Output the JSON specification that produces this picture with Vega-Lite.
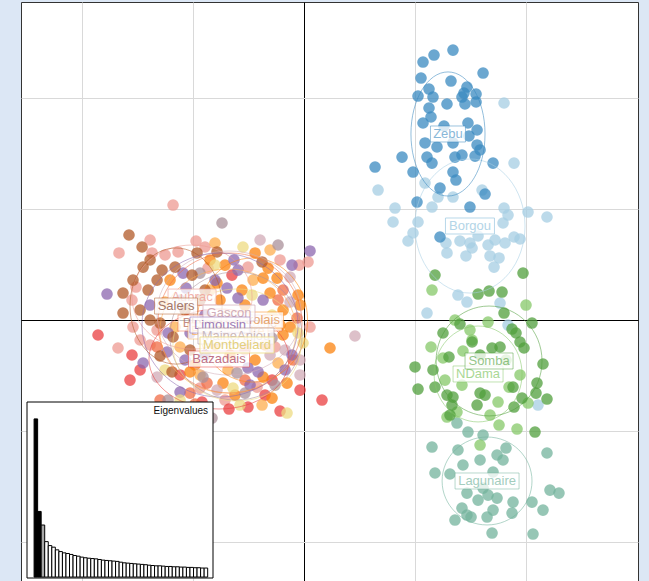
{
"$schema": "https://vega.github.io/schema/vega-lite/v6.json",
"width": 617, "height": 579,
"autosize": {"type": "none"},
"padding": {"left": 21, "top": 2, "right": 11, "bottom": 0},
"background": "#dce7f5",
"config": {"view": {"stroke": "#333333", "strokeWidth": 1, "fill": "white"}},
"datasets": {
"pts": [
{"g":"Borgou","x":1.802,"y":1.955},{"g":"Borgou","x":1.892,"y":1.414},{"g":"Borgou","x":0.667,"y":1.171},{"g":"Borgou","x":1.090,"y":1.234},{"g":"Borgou","x":1.604,"y":1.171},{"g":"Borgou","x":1.207,"y":1.108},{"g":"Borgou","x":1.342,"y":1.108},{"g":"Borgou","x":0.820,"y":1.009},{"g":"Borgou","x":1.153,"y":1.018},{"g":"Borgou","x":1.802,"y":1.009},{"g":"Borgou","x":1.838,"y":0.946},{"g":"Borgou","x":2.018,"y":0.973},{"g":"Borgou","x":2.189,"y":0.928},{"g":"Borgou","x":0.802,"y":0.883},{"g":"Borgou","x":1.027,"y":0.883},{"g":"Borgou","x":1.793,"y":0.874},{"g":"Borgou","x":0.982,"y":0.784},{"g":"Borgou","x":0.937,"y":0.712},{"g":"Borgou","x":1.405,"y":0.712},{"g":"Borgou","x":1.495,"y":0.694},{"g":"Borgou","x":1.568,"y":0.757},{"g":"Borgou","x":1.658,"y":0.676},{"g":"Borgou","x":1.721,"y":0.721},{"g":"Borgou","x":1.811,"y":0.694},{"g":"Borgou","x":1.892,"y":0.748},{"g":"Borgou","x":1.946,"y":0.730},{"g":"Borgou","x":1.279,"y":0.694},{"g":"Borgou","x":1.514,"y":0.649},{"g":"Borgou","x":1.288,"y":0.604},{"g":"Borgou","x":1.459,"y":0.577},{"g":"Borgou","x":1.676,"y":0.577},{"g":"Borgou","x":1.757,"y":0.559},{"g":"Borgou","x":1.712,"y":0.477},{"g":"Borgou","x":1.387,"y":0.225},{"g":"Borgou","x":1.468,"y":0.162},{"g":"Borgou","x":1.108,"y":0.063},{"g":"Borgou","x":1.766,"y":0.153},{"g":"Borgou","x":1.838,"y":-0.045},{"g":"Borgou","x":2.108,"y":-0.766},
{"g":"Zebu","x":1.342,"y":2.432},{"g":"Zebu","x":1.171,"y":2.387},{"g":"Zebu","x":1.072,"y":2.324},{"g":"Zebu","x":1.613,"y":2.225},{"g":"Zebu","x":1.054,"y":2.180},{"g":"Zebu","x":1.324,"y":2.153},{"g":"Zebu","x":1.126,"y":2.081},{"g":"Zebu","x":1.468,"y":2.099},{"g":"Zebu","x":1.550,"y":2.036},{"g":"Zebu","x":1.027,"y":2.018},{"g":"Zebu","x":1.162,"y":2.009},{"g":"Zebu","x":1.441,"y":2.045},{"g":"Zebu","x":1.423,"y":2.009},{"g":"Zebu","x":1.450,"y":1.946},{"g":"Zebu","x":1.550,"y":1.964},{"g":"Zebu","x":1.288,"y":1.946},{"g":"Zebu","x":1.126,"y":1.910},{"g":"Zebu","x":1.144,"y":1.829},{"g":"Zebu","x":1.072,"y":1.775},{"g":"Zebu","x":1.261,"y":1.748},{"g":"Zebu","x":1.477,"y":1.775},{"g":"Zebu","x":1.559,"y":1.712},{"g":"Zebu","x":1.090,"y":1.595},{"g":"Zebu","x":1.198,"y":1.559},{"g":"Zebu","x":1.486,"y":1.658},{"g":"Zebu","x":1.559,"y":1.577},{"g":"Zebu","x":1.586,"y":1.532},{"g":"Zebu","x":0.883,"y":1.468},{"g":"Zebu","x":1.108,"y":1.468},{"g":"Zebu","x":1.360,"y":1.468},{"g":"Zebu","x":1.423,"y":1.486},{"g":"Zebu","x":1.541,"y":1.477},{"g":"Zebu","x":0.640,"y":1.378},{"g":"Zebu","x":1.153,"y":1.414},{"g":"Zebu","x":1.703,"y":1.414},{"g":"Zebu","x":0.982,"y":1.333},{"g":"Zebu","x":1.342,"y":1.333},{"g":"Zebu","x":1.369,"y":1.261},{"g":"Zebu","x":1.225,"y":1.189},{"g":"Zebu","x":1.631,"y":1.135},{"g":"Zebu","x":1.018,"y":1.063},{"g":"Zebu","x":1.495,"y":1.018},{"g":"Zebu","x":1.225,"y":0.748},{"g":"Zebu","x":1.342,"y":1.595},
{"g":"Lagunaire","x":1.378,"y":-0.928},{"g":"Lagunaire","x":1.477,"y":-1.009},{"g":"Lagunaire","x":1.613,"y":-1.036},{"g":"Lagunaire","x":1.153,"y":-1.144},{"g":"Lagunaire","x":2.189,"y":-1.198},{"g":"Lagunaire","x":1.387,"y":-1.171},{"g":"Lagunaire","x":1.586,"y":-1.261},{"g":"Lagunaire","x":1.739,"y":-1.216},{"g":"Lagunaire","x":1.820,"y":-1.153},{"g":"Lagunaire","x":1.793,"y":-1.261},{"g":"Lagunaire","x":1.432,"y":-1.306},{"g":"Lagunaire","x":1.180,"y":-1.378},{"g":"Lagunaire","x":1.315,"y":-1.387},{"g":"Lagunaire","x":1.703,"y":-1.369},{"g":"Lagunaire","x":1.613,"y":-1.514},{"g":"Lagunaire","x":1.468,"y":-1.559},{"g":"Lagunaire","x":1.568,"y":-1.622},{"g":"Lagunaire","x":1.658,"y":-1.577},{"g":"Lagunaire","x":1.739,"y":-1.604},{"g":"Lagunaire","x":2.054,"y":-1.640},{"g":"Lagunaire","x":1.883,"y":-1.640},{"g":"Lagunaire","x":2.216,"y":-1.532},{"g":"Lagunaire","x":2.297,"y":-1.559},{"g":"Lagunaire","x":2.153,"y":-1.712},{"g":"Lagunaire","x":1.423,"y":-1.694},{"g":"Lagunaire","x":1.703,"y":-1.712},{"g":"Lagunaire","x":1.468,"y":-1.757},{"g":"Lagunaire","x":1.649,"y":-1.775},{"g":"Lagunaire","x":1.874,"y":-1.739},{"g":"Lagunaire","x":1.360,"y":-1.802},{"g":"Lagunaire","x":1.505,"y":-1.775},{"g":"Lagunaire","x":1.694,"y":-1.919},{"g":"Lagunaire","x":2.063,"y":-1.928},
{"g":"NDama","x":1.153,"y":0.270},{"g":"NDama","x":2.000,"y":0.135},{"g":"NDama","x":1.658,"y":-0.018},{"g":"NDama","x":1.144,"y":-0.243},{"g":"NDama","x":1.252,"y":-0.342},{"g":"NDama","x":1.432,"y":-0.279},{"g":"NDama","x":1.270,"y":-0.541},{"g":"NDama","x":1.847,"y":-0.604},{"g":"NDama","x":1.748,"y":-0.739},{"g":"NDama","x":2.018,"y":-0.748},{"g":"NDama","x":1.676,"y":-0.856},{"g":"NDama","x":1.288,"y":-0.874},{"g":"NDama","x":1.757,"y":-0.946},{"g":"NDama","x":1.919,"y":-0.982},{"g":"NDama","x":1.586,"y":-1.126},{"g":"NDama","x":1.514,"y":-0.180},{"g":"NDama","x":1.378,"y":-0.829},{"g":"NDama","x":1.495,"y":-0.090},{"g":"NDama","x":1.820,"y":-0.360},{"g":"NDama","x":1.360,"y":0.000},{"g":"NDama","x":1.946,"y":-0.495},{"g":"NDama","x":1.423,"y":-0.586},
{"g":"Somba","x":1.180,"y":0.405},{"g":"Somba","x":1.973,"y":0.423},{"g":"Somba","x":1.568,"y":0.234},{"g":"Somba","x":1.667,"y":0.261},{"g":"Somba","x":1.784,"y":0.252},{"g":"Somba","x":1.802,"y":0.063},{"g":"Somba","x":1.405,"y":-0.036},{"g":"Somba","x":2.054,"y":-0.027},{"g":"Somba","x":1.252,"y":-0.117},{"g":"Somba","x":1.874,"y":-0.081},{"g":"Somba","x":1.910,"y":-0.117},{"g":"Somba","x":1.514,"y":-0.198},{"g":"Somba","x":1.694,"y":-0.252},{"g":"Somba","x":1.766,"y":-0.243},{"g":"Somba","x":1.946,"y":-0.198},{"g":"Somba","x":1.982,"y":-0.252},{"g":"Somba","x":1.306,"y":-0.333},{"g":"Somba","x":1.000,"y":-0.423},{"g":"Somba","x":1.162,"y":-0.450},{"g":"Somba","x":2.153,"y":-0.396},{"g":"Somba","x":1.586,"y":-0.315},{"g":"Somba","x":1.027,"y":-0.622},{"g":"Somba","x":1.180,"y":-0.604},{"g":"Somba","x":1.883,"y":-0.604},{"g":"Somba","x":2.099,"y":-0.568},{"g":"Somba","x":1.288,"y":-0.676},{"g":"Somba","x":1.342,"y":-0.694},{"g":"Somba","x":1.586,"y":-0.658},{"g":"Somba","x":1.631,"y":-0.676},{"g":"Somba","x":1.964,"y":-0.703},{"g":"Somba","x":2.090,"y":-0.658},{"g":"Somba","x":2.189,"y":-0.712},{"g":"Somba","x":1.333,"y":-0.766},{"g":"Somba","x":1.559,"y":-0.766},{"g":"Somba","x":1.892,"y":-0.784},{"g":"Somba","x":1.315,"y":-0.856},{"g":"Somba","x":2.081,"y":-1.009},
{"g":"Aubrac","x":-1.667,"y":0.604},{"g":"Aubrac","x":-1.387,"y":0.721},{"g":"Aubrac","x":-1.369,"y":0.604},{"g":"Aubrac","x":-1.135,"y":0.613},{"g":"Aubrac","x":-0.892,"y":0.658},{"g":"Aubrac","x":0.036,"y":0.523},{"g":"Aubrac","x":-0.865,"y":0.468},{"g":"Aubrac","x":-0.505,"y":0.477},{"g":"Aubrac","x":-1.514,"y":0.297},{"g":"Aubrac","x":-1.550,"y":0.180},{"g":"Aubrac","x":-1.541,"y":-0.063},{"g":"Aubrac","x":-1.324,"y":-0.090},{"g":"Aubrac","x":0.054,"y":-0.063},{"g":"Aubrac","x":-0.261,"y":-0.243},{"g":"Aubrac","x":-0.937,"y":-0.613},{"g":"Aubrac","x":-0.423,"y":-0.604},{"g":"Aubrac","x":-1.180,"y":1.036},{"g":"Aubrac","x":-0.532,"y":-0.270},{"g":"Aubrac","x":-0.973,"y":0.712},{"g":"Aubrac","x":-0.045,"y":0.495},{"g":"Aubrac","x":-1.676,"y":-0.252},{"g":"Aubrac","x":-1.387,"y":-0.225},{"g":"Aubrac","x":-1.252,"y":0.586},{"g":"Aubrac","x":-0.216,"y":0.541},{"g":"Aubrac","x":-1.477,"y":-0.180},{"g":"Aubrac","x":-0.712,"y":-0.721},
{"g":"Bazadais","x":-1.856,"y":-0.135},{"g":"Bazadais","x":-1.550,"y":-0.315},{"g":"Bazadais","x":-1.477,"y":-0.450},{"g":"Bazadais","x":-1.117,"y":-0.495},{"g":"Bazadais","x":-0.288,"y":-0.541},{"g":"Bazadais","x":0.162,"y":-0.721},{"g":"Bazadais","x":-0.216,"y":-0.820},{"g":"Bazadais","x":-0.505,"y":-0.784},{"g":"Bazadais","x":-0.676,"y":-0.802},{"g":"Bazadais","x":-0.919,"y":-0.739},{"g":"Bazadais","x":-1.568,"y":-0.541},{"g":"Bazadais","x":-0.649,"y":0.405},{"g":"Bazadais","x":-0.351,"y":-0.676},{"g":"Bazadais","x":-1.027,"y":-0.811},{"g":"Bazadais","x":-0.036,"y":-0.631},
{"g":"BlondeAquitaine","x":-0.189,"y":0.270},{"g":"BlondeAquitaine","x":-0.234,"y":0.180},{"g":"BlondeAquitaine","x":-0.063,"y":0.018},{"g":"BlondeAquitaine","x":-1.324,"y":-0.243},{"g":"BlondeAquitaine","x":-0.874,"y":-0.568},{"g":"BlondeAquitaine","x":-0.099,"y":-0.360},{"g":"BlondeAquitaine","x":-1.027,"y":-0.658},{"g":"BlondeAquitaine","x":-0.982,"y":-0.757},{"g":"BlondeAquitaine","x":-0.712,"y":-0.090},{"g":"BlondeAquitaine","x":-0.532,"y":-0.541},{"g":"BlondeAquitaine","x":-1.297,"y":-0.721},
{"g":"BretPieNoire","x":-0.802,"y":0.694},{"g":"BretPieNoire","x":-0.459,"y":0.360},{"g":"BretPieNoire","x":-1.252,"y":0.162},{"g":"BretPieNoire","x":-1.162,"y":-0.063},{"g":"BretPieNoire","x":-1.117,"y":-0.243},{"g":"BretPieNoire","x":-0.234,"y":-0.387},{"g":"BretPieNoire","x":-0.802,"y":-0.225},{"g":"BretPieNoire","x":-0.847,"y":0.270},{"g":"BretPieNoire","x":-0.505,"y":-0.180},{"g":"BretPieNoire","x":-0.685,"y":-0.450},{"g":"BretPieNoire","x":-0.378,"y":-0.766},{"g":"BretPieNoire","x":-0.306,"y":0.631},{"g":"BretPieNoire","x":-0.937,"y":-0.495},
{"g":"Charolais","x":-0.441,"y":0.604},{"g":"Charolais","x":-0.712,"y":0.495},{"g":"Charolais","x":-0.369,"y":0.378},{"g":"Charolais","x":-0.243,"y":0.378},{"g":"Charolais","x":-1.207,"y":0.360},{"g":"Charolais","x":-0.784,"y":0.333},{"g":"Charolais","x":-0.559,"y":0.270},{"g":"Charolais","x":-0.306,"y":0.243},{"g":"Charolais","x":-0.054,"y":0.225},{"g":"Charolais","x":-0.757,"y":0.180},{"g":"Charolais","x":-0.189,"y":0.090},{"g":"Charolais","x":-0.126,"y":-0.063},{"g":"Charolais","x":-0.189,"y":-0.135},{"g":"Charolais","x":0.234,"y":-0.252},{"g":"Charolais","x":-1.027,"y":-0.468},{"g":"Charolais","x":-0.730,"y":-0.568},{"g":"Charolais","x":-0.369,"y":-0.514},{"g":"Charolais","x":-0.153,"y":-0.568},{"g":"Charolais","x":-0.577,"y":0.000},{"g":"Charolais","x":-0.351,"y":0.000},{"g":"Charolais","x":-0.667,"y":-0.315},{"g":"Charolais","x":-0.982,"y":-0.405},{"g":"Charolais","x":-0.441,"y":-0.360},{"g":"Charolais","x":-0.820,"y":-0.045},{"g":"Charolais","x":-0.351,"y":-0.225},{"g":"Charolais","x":-0.288,"y":-0.703},{"g":"Charolais","x":-0.847,"y":0.541},{"g":"Charolais","x":-0.324,"y":0.468},{"g":"Charolais","x":-0.532,"y":0.135},{"g":"Charolais","x":-0.216,"y":-0.045},{"g":"Charolais","x":-0.622,"y":-0.676},{"g":"Charolais","x":-0.036,"y":0.135},
{"g":"Gascon","x":-0.126,"y":0.387},{"g":"Gascon","x":-0.126,"y":0.162},{"g":"Gascon","x":-1.324,"y":-0.514},{"g":"Gascon","x":-0.784,"y":-0.631},{"g":"Gascon","x":0.459,"y":-0.144},{"g":"Gascon","x":-0.306,"y":-0.315},{"g":"Gascon","x":-0.171,"y":-0.270},{"g":"Gascon","x":-0.036,"y":-0.495},{"g":"Gascon","x":-0.396,"y":0.721},{"g":"Gascon","x":-0.036,"y":-0.360},
{"g":"Limousin","x":0.054,"y":0.622},{"g":"Limousin","x":-1.090,"y":0.423},{"g":"Limousin","x":-0.631,"y":0.541},{"g":"Limousin","x":-0.595,"y":0.450},{"g":"Limousin","x":-1.063,"y":0.288},{"g":"Limousin","x":-0.694,"y":0.288},{"g":"Limousin","x":-1.775,"y":0.234},{"g":"Limousin","x":-0.595,"y":0.198},{"g":"Limousin","x":-0.369,"y":0.180},{"g":"Limousin","x":-1.225,"y":-0.117},{"g":"Limousin","x":-1.027,"y":-0.117},{"g":"Limousin","x":-1.234,"y":-0.288},{"g":"Limousin","x":-0.108,"y":-0.315},{"g":"Limousin","x":-1.450,"y":-0.387},{"g":"Limousin","x":-0.505,"y":-0.432},{"g":"Limousin","x":-0.414,"y":-0.468},{"g":"Limousin","x":-1.117,"y":-0.649},{"g":"Limousin","x":-0.892,"y":0.045},{"g":"Limousin","x":-0.441,"y":-0.090},{"g":"Limousin","x":-1.072,"y":-0.360},{"g":"Limousin","x":-0.892,"y":-0.315},{"g":"Limousin","x":-0.108,"y":0.495},{"g":"Limousin","x":-0.802,"y":0.360},{"g":"Limousin","x":-0.486,"y":-0.586},{"g":"Limousin","x":-0.171,"y":-0.450},{"g":"Limousin","x":-1.387,"y":0.135},
{"g":"MaineAnjou","x":-0.739,"y":0.874},{"g":"MaineAnjou","x":-0.234,"y":0.676},{"g":"MaineAnjou","x":-0.937,"y":0.423},{"g":"MaineAnjou","x":-0.288,"y":-0.162},{"g":"MaineAnjou","x":-0.910,"y":-0.514},{"g":"MaineAnjou","x":-0.604,"y":-0.477},{"g":"MaineAnjou","x":-0.532,"y":-0.658},{"g":"MaineAnjou","x":-0.829,"y":-0.883},{"g":"MaineAnjou","x":-1.225,"y":-0.721},{"g":"MaineAnjou","x":-1.117,"y":0.180},{"g":"MaineAnjou","x":-0.261,"y":-0.586},
{"g":"Montbeliard","x":-0.550,"y":0.658},{"g":"Montbeliard","x":-0.468,"y":0.225},{"g":"Montbeliard","x":-0.054,"y":-0.117},{"g":"Montbeliard","x":-0.009,"y":-0.207},{"g":"Montbeliard","x":-1.252,"y":-0.450},{"g":"Montbeliard","x":-0.640,"y":-0.613},{"g":"Montbeliard","x":-0.153,"y":-0.838},{"g":"Montbeliard","x":-0.577,"y":-0.766},{"g":"Montbeliard","x":-0.288,"y":0.045},{"g":"Montbeliard","x":-0.802,"y":0.495},{"g":"Montbeliard","x":-1.117,"y":-0.721},
{"g":"Salers","x":-1.577,"y":0.766},{"g":"Salers","x":-1.459,"y":0.658},{"g":"Salers","x":-0.964,"y":0.604},{"g":"Salers","x":-0.784,"y":0.613},{"g":"Salers","x":-1.450,"y":0.477},{"g":"Salers","x":-1.279,"y":0.450},{"g":"Salers","x":-1.162,"y":0.477},{"g":"Salers","x":-1.009,"y":0.405},{"g":"Salers","x":-0.378,"y":0.523},{"g":"Salers","x":-1.541,"y":0.360},{"g":"Salers","x":-1.324,"y":0.360},{"g":"Salers","x":-1.631,"y":0.243},{"g":"Salers","x":-1.405,"y":0.270},{"g":"Salers","x":-1.631,"y":0.063},{"g":"Salers","x":-1.387,"y":0.000},{"g":"Salers","x":-1.297,"y":-0.027},{"g":"Salers","x":-1.180,"y":-0.153},{"g":"Salers","x":-1.297,"y":-0.324},{"g":"Salers","x":-1.189,"y":-0.468},{"g":"Salers","x":-0.937,"y":0.180},{"g":"Salers","x":-1.072,"y":0.090},{"g":"Salers","x":-1.477,"y":0.090},{"g":"Salers","x":-1.027,"y":-0.270},{"g":"Salers","x":-1.387,"y":0.541},{"g":"Salers","x":-0.892,"y":0.270}
],
"cent": [
{"g":"Borgou","x":1.495,"y":0.847,"r":0.604},
{"g":"Zebu","x":1.297,"y":1.676,"r":0.559},
{"g":"Lagunaire","x":1.649,"y":-1.450,"r":0.405},
{"g":"NDama","x":1.568,"y":-0.486,"r":0.432},
{"g":"Somba","x":1.667,"y":-0.369,"r":0.495},
{"g":"Aubrac","x":-1.009,"y":0.207,"r":0.541},
{"g":"Bazadais","x":-0.766,"y":-0.351,"r":0.631},
{"g":"BlondeAquitaine","x":-0.667,"y":-0.027,"r":0.649},
{"g":"BretPieNoire","x":-0.685,"y":-0.099,"r":0.613},
{"g":"Charolais","x":-0.464,"y":0.000,"r":0.559},
{"g":"Gascon","x":-0.676,"y":0.063,"r":0.649},
{"g":"Limousin","x":-0.757,"y":-0.045,"r":0.703},
{"g":"MaineAnjou","x":-0.613,"y":-0.144,"r":0.595},
{"g":"Montbeliard","x":-0.604,"y":-0.225,"r":0.577},
{"g":"Salers","x":-1.153,"y":0.126,"r":0.523}
],
"eig": [
{"k":1,"v":100,"role":"shown"},{"k":2,"v":41.5,"role":"shown"},{"k":3,"v":32.9,"role":"kept"},{"k":4,"v":22.4,"role":"other"},{"k":5,"v":19.9,"role":"other"},{"k":6,"v":18.9,"role":"other"},{"k":7,"v":17.2,"role":"other"},{"k":8,"v":16.1,"role":"other"},{"k":9,"v":15.3,"role":"other"},{"k":10,"v":14.9,"role":"other"},{"k":11,"v":14.3,"role":"other"},{"k":12,"v":13.6,"role":"other"},{"k":13,"v":13.2,"role":"other"},{"k":14,"v":12.6,"role":"other"},{"k":15,"v":12.2,"role":"other"},{"k":16,"v":11.9,"role":"other"},{"k":17,"v":11.7,"role":"other"},{"k":18,"v":11.5,"role":"other"},{"k":19,"v":11.1,"role":"other"},{"k":20,"v":10.7,"role":"other"},{"k":21,"v":10.5,"role":"other"},{"k":22,"v":10.3,"role":"other"},{"k":23,"v":10.1,"role":"other"},{"k":24,"v":9.9,"role":"other"},{"k":25,"v":9.4,"role":"other"},{"k":26,"v":9.0,"role":"other"},{"k":27,"v":8.8,"role":"other"},{"k":28,"v":8.6,"role":"other"},{"k":29,"v":8.4,"role":"other"},{"k":30,"v":8.2,"role":"other"},{"k":31,"v":8.0,"role":"other"},{"k":32,"v":7.8,"role":"other"},{"k":33,"v":7.5,"role":"other"},{"k":34,"v":7.3,"role":"other"},{"k":35,"v":7.1,"role":"other"},{"k":36,"v":7.1,"role":"other"},{"k":37,"v":6.9,"role":"other"},{"k":38,"v":6.7,"role":"other"},{"k":39,"v":6.7,"role":"other"},{"k":40,"v":6.5,"role":"other"},{"k":41,"v":6.5,"role":"other"},{"k":42,"v":6.3,"role":"other"},{"k":43,"v":6.3,"role":"other"},{"k":44,"v":6.1,"role":"other"},{"k":45,"v":6.1,"role":"other"},{"k":46,"v":5.9,"role":"other"},{"k":47,"v":5.9,"role":"other"},{"k":48,"v":5.7,"role":"other"},{"k":49,"v":5.7,"role":"other"}
]
},
"layer": [
{
"encoding": {
"x": {"field": "x", "type": "quantitative", "scale": {"domain": [-2.55, 3.009], "nice": false, "zero": false}, "axis": {"values": [-2, -1, 0, 1, 2], "grid": true, "gridColor": {"condition": {"test": "datum.value === 0", "value": "#000000"}, "value": "#d9d9d9"}, "gridWidth": 1, "labels": false, "ticks": false, "domain": false, "title": null}},
"y": {"field": "y", "type": "quantitative", "scale": {"domain": [-2.351, 2.865], "nice": false, "zero": false}, "axis": {"values": [-2, -1, 0, 1, 2], "grid": true, "gridColor": {"condition": {"test": "datum.value === 0", "value": "#000000"}, "value": "#d9d9d9"}, "gridWidth": 1, "labels": false, "ticks": false, "domain": false, "title": null}}
},
"layer": [
{"data": {"name": "pts"}, "mark": {"type": "point", "shape": "circle", "filled": true, "size": 135, "opacity": 0.75, "strokeWidth": 0},
 "encoding": {"color": {"field": "g", "type": "nominal", "legend": null, "scale": {"domain": ["Borgou","Zebu","Lagunaire","NDama","Somba","Aubrac","Bazadais","BlondeAquitaine","BretPieNoire","Charolais","Gascon","Limousin","MaineAnjou","Montbeliard","Salers"], "range": ["#A6CEE3","#3A89C0","#73B39C","#85C868","#509F3C","#ED9A91","#EA3F40","#F06C46","#FEAD4F","#FB830F","#D2ABB7","#8C67AF","#AA909A","#EEDB81","#B15928"]}}}},
{"data": {"name": "cent"}, "mark": {"type": "point", "filled": false, "strokeWidth": 1, "opacity": 1, "strokeOpacity": 0.55},
 "encoding": {
  "color": {"field": "g", "type": "nominal", "legend": null, "scale": {"domain": ["Borgou","Zebu","Lagunaire","NDama","Somba","Aubrac","Bazadais","BlondeAquitaine","BretPieNoire","Charolais","Gascon","Limousin","MaineAnjou","Montbeliard","Salers"], "range": ["#A6CEE3","#3A89C0","#73B39C","#85C868","#509F3C","#ED9A91","#EA3F40","#F06C46","#FEAD4F","#FB830F","#D2ABB7","#8C67AF","#AA909A","#EEDB81","#B15928"]}},
  "shape": {"field": "g", "type": "nominal", "legend": null, "scale": {"domain": ["Borgou","Zebu","Lagunaire","NDama","Somba","Aubrac","Bazadais","BlondeAquitaine","BretPieNoire","Charolais","Gascon","Limousin","MaineAnjou","Montbeliard","Salers"], "range": [
   "M 0.821 0 C 0.821 0.552 0.453 1 0 1 C -0.453 1 -0.821 0.552 -0.821 0 C -0.821 -0.552 -0.453 -1 0 -1 C 0.453 -1 0.821 -0.552 0.821 0 Z",
   "M 0.597 0 C 0.597 0.552 0.33 1 0 1 C -0.33 1 -0.597 0.552 -0.597 0 C -0.597 -0.552 -0.33 -1 0 -1 C 0.33 -1 0.597 -0.552 0.597 0 Z",
   "M 1 0 C 1 0.54 0.552 0.978 0 0.978 C -0.552 0.978 -1 0.54 -1 0 C -1 -0.54 -0.552 -0.978 0 -0.978 C 0.552 -0.978 1 -0.54 1 0 Z",
   "M 0.917 0 C 0.917 0.552 0.506 1 0 1 C -0.506 1 -0.917 0.552 -0.917 0 C -0.917 -0.552 -0.506 -1 0 -1 C 0.506 -1 0.917 -0.552 0.917 0 Z",
   "M 0.964 0 C 0.964 0.552 0.532 1 0 1 C -0.532 1 -0.964 0.552 -0.964 0 C -0.964 -0.552 -0.532 -1 0 -1 C 0.532 -1 0.964 -0.552 0.964 0 Z",
   "M 1 0 C 1 0.479 0.552 0.867 0 0.867 C -0.552 0.867 -1 0.479 -1 0 C -1 -0.479 -0.552 -0.867 0 -0.867 C 0.552 -0.867 1 -0.479 1 0 Z",
   "M 1 0 C 1 0.394 0.552 0.714 0 0.714 C -0.552 0.714 -1 0.394 -1 0 C -1 -0.394 -0.552 -0.714 0 -0.714 C 0.552 -0.714 1 -0.394 1 0 Z",
   "M 1 0 C 1 0.537 0.552 0.972 0 0.972 C -0.552 0.972 -1 0.537 -1 0 C -1 -0.537 -0.552 -0.972 0 -0.972 C 0.552 -0.972 1 -0.537 1 0 Z",
   "M 1 0 C 1 0.504 0.552 0.912 0 0.912 C -0.552 0.912 -1 0.504 -1 0 C -1 -0.504 -0.552 -0.912 0 -0.912 C 0.552 -0.912 1 -0.504 1 0 Z",
   "M 0.887 0 C 0.887 0.552 0.49 1 0 1 C -0.49 1 -0.887 0.552 -0.887 0 C -0.887 -0.552 -0.49 -1 0 -1 C 0.49 -1 0.887 -0.552 0.887 0 Z",
   "M 1 0 C 1 0.476 0.552 0.861 0 0.861 C -0.552 0.861 -1 0.476 -1 0 C -1 -0.476 -0.552 -0.861 0 -0.861 C 0.552 -0.861 1 -0.476 1 0 Z",
   "M 1 0 C 1 0.51 0.552 0.923 0 0.923 C -0.552 0.923 -1 0.51 -1 0 C -1 -0.51 -0.552 -0.923 0 -0.923 C 0.552 -0.923 1 -0.51 1 0 Z",
   "M 1 0 C 1 0.536 0.552 0.97 0 0.97 C -0.552 0.97 -1 0.536 -1 0 C -1 -0.536 -0.552 -0.97 0 -0.97 C 0.552 -0.97 1 -0.536 1 0 Z",
   "M 1 0 C 1 0.483 0.552 0.875 0 0.875 C -0.552 0.875 -1 0.483 -1 0 C -1 -0.483 -0.552 -0.875 0 -0.875 C 0.552 -0.875 1 -0.483 1 0 Z",
   "M 0.793 0 C 0.793 0.552 0.438 1 0 1 C -0.438 1 -0.793 0.552 -0.793 0 C -0.793 -0.552 -0.438 -1 0 -1 C 0.438 -1 0.793 -0.552 0.793 0 Z"
  ]}},
  "size": {"field": "r", "type": "quantitative", "legend": null, "scale": {"type": "pow", "exponent": 2, "domain": [0, 1], "range": [0, 49284]}}
 }},
{"data": {"name": "cent"}, "transform": [{"filter": "datum.g === 'Borgou'"}], "mark": {"type": "point", "shape": "M -2.45 -0.8 L 2.45 -0.8 L 2.45 0.8 L -2.45 0.8 Z", "size": 400, "filled": true, "fill": "white", "fillOpacity": 0.75, "stroke": "#A6CEE3", "strokeOpacity": 0.8, "strokeWidth": 1, "opacity": 1}},
{"data": {"name": "cent"}, "transform": [{"filter": "datum.g === 'Borgou'"}], "mark": {"type": "text", "font": "Liberation Sans", "fontSize": 13, "fill": "#A6CEE3", "opacity": 0.85}, "encoding": {"text": {"field": "g"}}},
{"data": {"name": "cent"}, "transform": [{"filter": "datum.g === 'Zebu'"}], "mark": {"type": "point", "shape": "M -1.75 -0.8 L 1.75 -0.8 L 1.75 0.8 L -1.75 0.8 Z", "size": 400, "filled": true, "fill": "white", "fillOpacity": 0.75, "stroke": "#3A89C0", "strokeOpacity": 0.5, "strokeWidth": 1, "opacity": 1}},
{"data": {"name": "cent"}, "transform": [{"filter": "datum.g === 'Zebu'"}], "mark": {"type": "text", "font": "Liberation Sans", "fontSize": 13, "fill": "#3A89C0", "opacity": 0.6}, "encoding": {"text": {"field": "g"}}},
{"data": {"name": "cent"}, "transform": [{"filter": "datum.g === 'Lagunaire'"}], "mark": {"type": "point", "shape": "M -3.2 -0.8 L 3.2 -0.8 L 3.2 0.8 L -3.2 0.8 Z", "size": 400, "filled": true, "fill": "white", "fillOpacity": 0.75, "stroke": "#73B39C", "strokeOpacity": 0.5, "strokeWidth": 1, "opacity": 1}},
{"data": {"name": "cent"}, "transform": [{"filter": "datum.g === 'Lagunaire'"}], "mark": {"type": "text", "font": "Liberation Sans", "fontSize": 13, "fill": "#73B39C", "opacity": 0.65}, "encoding": {"text": {"field": "g"}}},
{"data": {"name": "cent"}, "transform": [{"filter": "datum.g === 'NDama'"}], "mark": {"type": "point", "shape": "M -2.5 -0.8 L 2.5 -0.8 L 2.5 0.8 L -2.5 0.8 Z", "size": 400, "filled": true, "fill": "white", "fillOpacity": 0.75, "stroke": "#85C868", "strokeOpacity": 0.5, "strokeWidth": 1, "opacity": 1}},
{"data": {"name": "cent"}, "transform": [{"filter": "datum.g === 'NDama'"}], "mark": {"type": "text", "font": "Liberation Sans", "fontSize": 13, "fill": "#85C868", "opacity": 0.7}, "encoding": {"text": {"field": "g"}}},
{"data": {"name": "cent"}, "transform": [{"filter": "datum.g === 'Somba'"}], "mark": {"type": "point", "shape": "M -2.4 -0.8 L 2.4 -0.8 L 2.4 0.8 L -2.4 0.8 Z", "size": 400, "filled": true, "fill": "white", "fillOpacity": 0.75, "stroke": "#509F3C", "strokeOpacity": 0.5, "strokeWidth": 1, "opacity": 1}},
{"data": {"name": "cent"}, "transform": [{"filter": "datum.g === 'Somba'"}], "mark": {"type": "text", "font": "Liberation Sans", "fontSize": 13, "fill": "#509F3C", "opacity": 0.6}, "encoding": {"text": {"field": "g"}}},
{"data": {"name": "cent"}, "transform": [{"filter": "datum.g === 'Aubrac'"}], "mark": {"type": "point", "shape": "M -2.4 -0.8 L 2.4 -0.8 L 2.4 0.8 L -2.4 0.8 Z", "size": 400, "filled": true, "fill": "white", "fillOpacity": 0.75, "stroke": "#ED9A91", "strokeOpacity": 0.6, "strokeWidth": 1, "opacity": 1}},
{"data": {"name": "cent"}, "transform": [{"filter": "datum.g === 'Aubrac'"}], "mark": {"type": "text", "font": "Liberation Sans", "fontSize": 13, "fill": "#ED9A91", "opacity": 0.75}, "encoding": {"text": {"field": "g"}}},
{"data": {"name": "cent"}, "transform": [{"filter": "datum.g === 'Bazadais'"}], "mark": {"type": "point", "shape": "M -3.05 -0.8 L 3.05 -0.8 L 3.05 0.8 L -3.05 0.8 Z", "size": 400, "filled": true, "fill": "white", "fillOpacity": 0.75, "stroke": "#EA3F40", "strokeOpacity": 0.5, "strokeWidth": 1, "opacity": 1}},
{"data": {"name": "cent"}, "transform": [{"filter": "datum.g === 'Bazadais'"}], "mark": {"type": "text", "font": "Liberation Sans", "fontSize": 13, "fill": "#B0506A", "opacity": 0.8}, "encoding": {"text": {"field": "g"}}},
{"data": {"name": "cent"}, "transform": [{"filter": "datum.g === 'BlondeAquitaine'"}], "mark": {"type": "point", "shape": "M -5.2 -0.8 L 5.2 -0.8 L 5.2 0.8 L -5.2 0.8 Z", "size": 400, "filled": true, "fill": "white", "fillOpacity": 0.75, "stroke": "#F06C46", "strokeOpacity": 0.5, "strokeWidth": 1, "opacity": 1}},
{"data": {"name": "cent"}, "transform": [{"filter": "datum.g === 'BlondeAquitaine'"}], "mark": {"type": "text", "font": "Liberation Sans", "fontSize": 13, "fill": "#B06050", "opacity": 0.7}, "encoding": {"text": {"field": "g"}}},
{"data": {"name": "cent"}, "transform": [{"filter": "datum.g === 'BretPieNoire'"}], "mark": {"type": "point", "shape": "M -4.0 -0.8 L 4.0 -0.8 L 4.0 0.8 L -4.0 0.8 Z", "size": 400, "filled": true, "fill": "white", "fillOpacity": 0.75, "stroke": "#FEAD4F", "strokeOpacity": 0.5, "strokeWidth": 1, "opacity": 1}},
{"data": {"name": "cent"}, "transform": [{"filter": "datum.g === 'BretPieNoire'"}], "mark": {"type": "text", "font": "Liberation Sans", "fontSize": 13, "fill": "#FEAD4F", "opacity": 0.7}, "encoding": {"text": {"field": "g"}}},
{"data": {"name": "cent"}, "transform": [{"filter": "datum.g === 'Charolais'"}], "mark": {"type": "point", "shape": "M -3.1 -0.8 L 3.1 -0.8 L 3.1 0.8 L -3.1 0.8 Z", "size": 400, "filled": true, "fill": "white", "fillOpacity": 0.75, "stroke": "#FB830F", "strokeOpacity": 0.5, "strokeWidth": 1, "opacity": 1}},
{"data": {"name": "cent"}, "transform": [{"filter": "datum.g === 'Charolais'"}], "mark": {"type": "text", "font": "Liberation Sans", "fontSize": 13, "fill": "#E08840", "opacity": 0.7}, "encoding": {"text": {"field": "g"}}},
{"data": {"name": "cent"}, "transform": [{"filter": "datum.g === 'Gascon'"}], "mark": {"type": "point", "shape": "M -2.6 -0.8 L 2.6 -0.8 L 2.6 0.8 L -2.6 0.8 Z", "size": 400, "filled": true, "fill": "white", "fillOpacity": 0.75, "stroke": "#D2ABB7", "strokeOpacity": 0.7, "strokeWidth": 1, "opacity": 1}},
{"data": {"name": "cent"}, "transform": [{"filter": "datum.g === 'Gascon'"}], "mark": {"type": "text", "font": "Liberation Sans", "fontSize": 13, "fill": "#C8A0AE", "opacity": 0.85}, "encoding": {"text": {"field": "g"}}},
{"data": {"name": "cent"}, "transform": [{"filter": "datum.g === 'Limousin'"}], "mark": {"type": "point", "shape": "M -3.0 -0.8 L 3.0 -0.8 L 3.0 0.8 L -3.0 0.8 Z", "size": 400, "filled": true, "fill": "white", "fillOpacity": 0.75, "stroke": "#8C67AF", "strokeOpacity": 0.55, "strokeWidth": 1, "opacity": 1}},
{"data": {"name": "cent"}, "transform": [{"filter": "datum.g === 'Limousin'"}], "mark": {"type": "text", "font": "Liberation Sans", "fontSize": 13, "fill": "#8C67AF", "opacity": 0.85}, "encoding": {"text": {"field": "g"}}},
{"data": {"name": "cent"}, "transform": [{"filter": "datum.g === 'MaineAnjou'"}], "mark": {"type": "point", "shape": "M -3.8 -0.8 L 3.8 -0.8 L 3.8 0.8 L -3.8 0.8 Z", "size": 400, "filled": true, "fill": "white", "fillOpacity": 0.75, "stroke": "#AA909A", "strokeOpacity": 0.55, "strokeWidth": 1, "opacity": 1}},
{"data": {"name": "cent"}, "transform": [{"filter": "datum.g === 'MaineAnjou'"}], "mark": {"type": "text", "font": "Liberation Sans", "fontSize": 13, "fill": "#AA909A", "opacity": 0.6}, "encoding": {"text": {"field": "g"}}},
{"data": {"name": "cent"}, "transform": [{"filter": "datum.g === 'Montbeliard'"}], "mark": {"type": "point", "shape": "M -3.7 -0.8 L 3.7 -0.8 L 3.7 0.8 L -3.7 0.8 Z", "size": 400, "filled": true, "fill": "white", "fillOpacity": 0.75, "stroke": "#EEDB81", "strokeOpacity": 0.8, "strokeWidth": 1, "opacity": 1}},
{"data": {"name": "cent"}, "transform": [{"filter": "datum.g === 'Montbeliard'"}], "mark": {"type": "text", "font": "Liberation Sans", "fontSize": 13, "fill": "#E2CC70", "opacity": 0.9}, "encoding": {"text": {"field": "g"}}},
{"data": {"name": "cent"}, "transform": [{"filter": "datum.g === 'Salers'"}], "mark": {"type": "point", "shape": "M -2.15 -0.8 L 2.15 -0.8 L 2.15 0.8 L -2.15 0.8 Z", "size": 400, "filled": true, "fill": "white", "fillOpacity": 0.75, "stroke": "#B15928", "strokeOpacity": 0.5, "strokeWidth": 1, "opacity": 1}},
{"data": {"name": "cent"}, "transform": [{"filter": "datum.g === 'Salers'"}], "mark": {"type": "text", "font": "Liberation Sans", "fontSize": 13, "fill": "#9A6A5A", "opacity": 0.9}, "encoding": {"text": {"field": "g"}}},
{"data": {"values": [{"t": "d = 1"}]}, "mark": {"type": "text", "align": "right", "baseline": "middle", "font": "Liberation Sans", "fontSize": 12, "fill": "#333333"}, "encoding": {"x": {"datum": 2.964, "type": "quantitative"}, "y": {"datum": 2.766, "type": "quantitative"}, "text": {"field": "t"}}}
]
},
{
"layer": [
{"data": {"values": [{"k0": -1.5, "k1": 51, "v0": -0.6, "v1": 110.7}]}, "mark": {"type": "rect", "fill": "white", "stroke": "black", "strokeWidth": 1},
 "encoding": {"x": {"field": "k0", "type": "quantitative", "scale": {"range": [6, 192], "nice": false, "zero": false, "padding": 0}, "axis": null}, "x2": {"field": "k1"}, "y": {"field": "v0", "type": "quantitative", "scale": {"range": [576, 400], "nice": false, "zero": false, "padding": 0}, "axis": null}, "y2": {"field": "v1"}}},
{"data": {"name": "eig"}, "mark": {"type": "bar", "width": 3.54, "stroke": "black", "strokeWidth": 1},
 "encoding": {"x": {"field": "k", "type": "quantitative", "scale": {"range": [6, 192], "nice": false, "zero": false, "padding": 0}, "axis": null}, "y": {"field": "v", "type": "quantitative", "scale": {"range": [576, 400], "nice": false, "zero": false, "padding": 0}, "axis": null}, "y2": {"datum": 0}, "fill": {"field": "role", "type": "nominal", "legend": null, "scale": {"domain": ["shown", "kept", "other"], "range": ["#000000", "#a8a8a8", "#ffffff"]}}}},
{"data": {"values": [{"k": 49.6, "v": 105.3, "t": "Eigenvalues"}]}, "mark": {"type": "text", "align": "right", "baseline": "middle", "font": "Liberation Sans", "fontSize": 10, "fill": "#111111"},
 "encoding": {"x": {"field": "k", "type": "quantitative", "scale": {"range": [6, 192], "nice": false, "zero": false, "padding": 0}, "axis": null}, "y": {"field": "v", "type": "quantitative", "scale": {"range": [576, 400], "nice": false, "zero": false, "padding": 0}, "axis": null}, "text": {"field": "t"}}}
]
}
],
"resolve": {"scale": {"x": "independent", "y": "independent"}}
}
